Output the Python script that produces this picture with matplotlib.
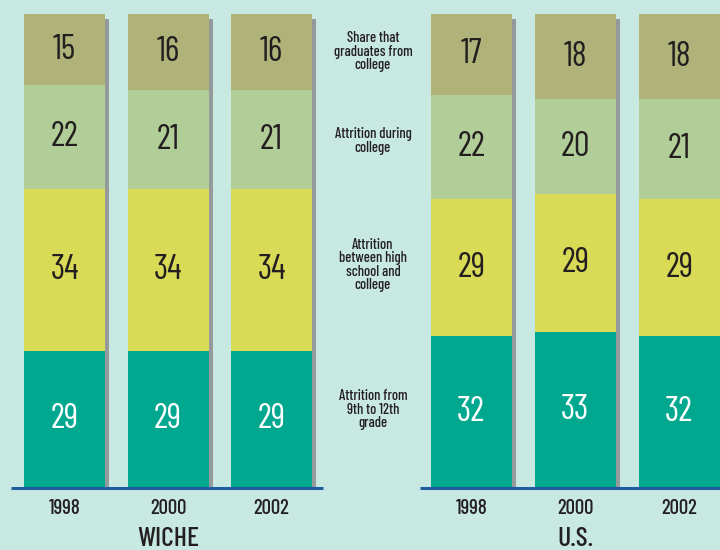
import matplotlib.pyplot as plt

years = ["1998", "2000", "2002"]
groups = ["WICHE", "U.S."]
segment_labels = ["Attrition from\n9th to 12th\ngrade",
                  "Attrition\nbetween high\nschool and\ncollege",
                  "Attrition during\ncollege",
                  "Share that\ngraduates from\ncollege"]

# bottom to top: 9th-12th, HS-college, during college, graduates
wiche_grade = [29, 29, 29]
wiche_hs = [34, 34, 34]
wiche_college = [22, 21, 21]
wiche_grad = [15, 16, 16]

us_grade = [32, 33, 32]
us_hs = [29, 29, 29]
us_college = [22, 20, 21]
us_grad = [17, 18, 18]

colors = ["#00a88f", "#d9da55", "#b1cd98", "#afb37a"]
text_colors = ["white", "#231f20", "#231f20", "#231f20"]
bg = "#c8e8e2"
font = ["Barlow Condensed", "DejaVu Sans"]

fig = plt.figure(figsize=(7.2, 5.5), dpi=100, facecolor=bg)
ax = fig.add_axes([0, 0, 1, 1])
ax.set_facecolor(bg)

px_x = 103.5   # pixels per x unit
px_y = 4.74    # pixels per y unit
ax.set_xlim(-64.5 / px_x, (720 - 64.5) / px_x)
ax.set_ylim(-62 / px_y, 100 + 14 / px_y)
ax.axis("off")

positions = [[0, 1, 2], [3.93, 4.935, 5.94]]
data = [[wiche_grade, wiche_hs, wiche_college, wiche_grad],
        [us_grade, us_hs, us_college, us_grad]]
width = 81 / px_x

for g, (xs, series) in enumerate(zip(positions, data)):
    totals = [sum(s[i] for s in series) for i in range(3)]
    # drop shadow
    ax.bar([x + 4 / px_x for x in xs], [t - 5 / px_y for t in totals], width=width,
           color="#959a9b", zorder=1)
    bottom = [0, 0, 0]
    for k, vals in enumerate(series):
        ax.bar(xs, vals, bottom=bottom, width=width, color=colors[k], zorder=2)
        for x, b, v in zip(xs, bottom, vals):
            ax.text(x, b + v / 2, str(v), ha="center", va="center", fontsize=25,
                    color=text_colors[k], family=font, zorder=3)
        bottom = [b + v for b, v in zip(bottom, vals)]
    for x, yr in zip(xs, years):
        ax.text(x, -20 / px_y, yr, ha="center", va="center", fontsize=15,
                color="#231f20", family=font, fontweight="medium")
    ax.text(xs[1], -51 / px_y, groups[g], ha="center", va="center", fontsize=20,
            color="#231f20", family=font, fontweight="medium")

# baselines
ax.plot([-0.517, 2.5], [0, 0], color="#1f5c9e", lw=2.2, zorder=4, solid_capstyle="butt")
ax.plot([3.43, 6.4], [0, 0], color="#1f5c9e", lw=2.2, zorder=4, solid_capstyle="butt")

# segment labels between the groups
label_y = [16.5, 47, 73.2, 92]
for lbl, y in zip(segment_labels, label_y):
    ax.text(2.98, y, lbl, ha="center", va="center", fontsize=10.5, color="#231f20",
            family=font, fontweight="medium", linespacing=0.95)

plt.savefig("out.png", dpi=100, facecolor=bg)
